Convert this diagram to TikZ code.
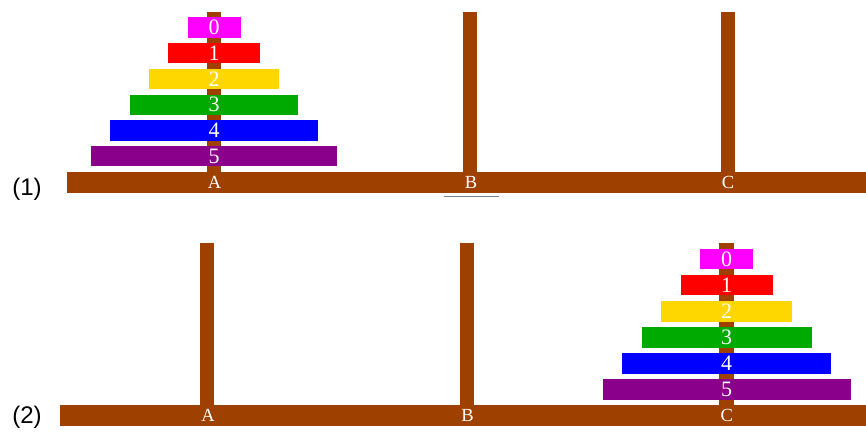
\documentclass[tikz,border=0pt]{standalone}
\usepackage{fontspec}
\setmainfont{Liberation Serif}
\newfontfamily\labelfont{Liberation Sans}
\definecolor{pole}{RGB}{158,64,0}
\definecolor{dmag}{RGB}{255,0,255}
\definecolor{dred}{RGB}{255,0,0}
\definecolor{dgold}{RGB}{255,215,0}
\definecolor{dgreen}{RGB}{0,170,0}
\definecolor{dblue}{RGB}{0,0,255}
\definecolor{dpurple}{RGB}{139,0,139}
\tikzset{
  wood/.style={fill=pole, draw=none, inner sep=0pt, outer sep=0pt},
  disk/.style={draw=none, inner sep=0pt, outer sep=0pt, minimum height=20.4pt, text=white, font=\fontsize{22}{22}\selectfont},
  baselabel/.style={text=white, inner sep=0pt, font=\fontsize{18.5}{18.5}\selectfont},
  panellabel/.style={inner sep=0pt, font=\labelfont\fontsize{24}{24}\selectfont}
}
\begin{document}
\begin{tikzpicture}[x=1pt,y=-1pt]
\useasboundingbox (0,0) rectangle (866,432);
\fill[white] (0,0) rectangle (866,432);
% ---------- panel (1) ----------
\fill[wood] (207,12.3) rectangle (221,173);
\fill[wood] (463.3,12.3) rectangle (477.3,173);
\fill[wood] (720.7,12.3) rectangle (735,173);
\fill[wood] (67.3,172.3) rectangle (866,192.7);
\foreach \i/\c in {0/dmag,1/dred,2/dgold,3/dgreen,4/dblue,5/dpurple}{
  \node[disk, fill=\c, minimum width={2*(26.5+19.3*\i)*1pt}] (ta\i) at (214,{17.3+25.74*\i+10.2}) {\i};
}
\node[baselabel] (la1) at (214.5,182) {A};
\node[baselabel] (lb1) at (471,182) {B};
\node[baselabel] (lc1) at (728,182) {C};
\draw[gray, line width=0.8pt] (444,196.7) -- (499.3,196.7);
\node[panellabel] (p1) at (27,189) {(1)};
% ---------- panel (2) ----------
\fill[wood] (200,243.3) rectangle (214.3,406);
\fill[wood] (460,243.3) rectangle (474.3,406);
\fill[wood] (719.3,243.3) rectangle (734,406);
\fill[wood] (60,405.3) rectangle (866,426);
\foreach \i/\c in {0/dmag,1/dred,2/dgold,3/dgreen,4/dblue,5/dpurple}{
  \node[disk, fill=\c, minimum width={2*(26.7+19.46*\i)*1pt}] (tc\i) at (726.7,{249+26.06*\i+10.2}) {\i};
}
\node[baselabel] (la2) at (208,415) {A};
\node[baselabel] (lb2) at (467.5,415) {B};
\node[baselabel] (lc2) at (726.7,415) {C};
\node[panellabel] (p2) at (27,417) {(2)};
\end{tikzpicture}
\end{document}
